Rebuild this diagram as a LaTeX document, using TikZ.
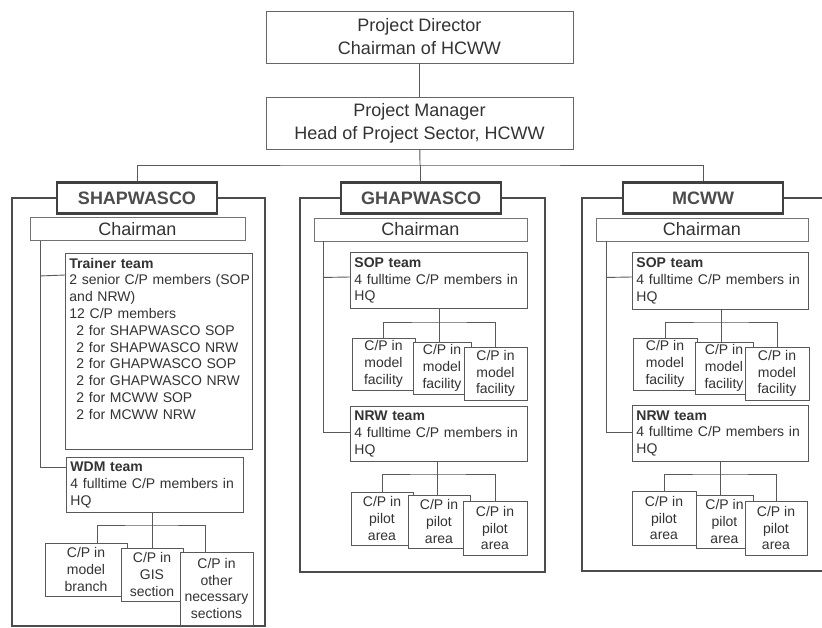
\documentclass[tikz,border=0pt]{standalone}
\usepackage{fontspec}
\setmainfont{Liberation Sans}
\usetikzlibrary{calc}
\begin{document}
\begin{tikzpicture}[x=1pt,y=-1pt,
    wire/.style={draw=black!65,line width=.9pt},
    panel/.style={draw=black!70,line width=1.2pt},
    lead/.style={draw=black!60,line width=.9pt,fill=white,text=black!80,align=center,inner sep=0pt,font=\fontsize{18}{23}\selectfont},
    org/.style={draw=black!75,line width=2.6pt,fill=white,text=black!70,inner sep=0pt,minimum width=160pt,minimum height=31pt,font=\fontsize{18}{22}\bfseries\selectfont},
    chair/.style={draw=black!55,line width=.9pt,fill=white,text=black!80,inner sep=0pt,minimum height=23pt,font=\fontsize{18}{22}\selectfont},
    team/.style={draw=black!65,line width=.9pt,fill=white,text=black!80,anchor=north west,align=left,inner xsep=4pt,inner ysep=3pt,font=\fontsize{14}{16.8}\selectfont},
    cp/.style={draw=black!65,line width=.9pt,fill=white,text=black!80,align=center,inner sep=1pt,font=\fontsize{14}{16.8}\selectfont}]
  \useasboundingbox (0,0) rectangle (822,628);
  % top of the project
  \node[lead,minimum width=307pt,minimum height=52pt] (pd) at (419.5,37) {Project Director\\Chairman of HCWW};
  \node[lead,minimum width=307pt,minimum height=52pt] (pm) at (419.5,123) {Project Manager\\Head of Project Sector, HCWW};
  \draw[wire] (pd) -- (pm);
  % the three companies
  \draw[panel] (12,198) rectangle (265,626);
  \draw[panel] (300,198) rectangle (545,572);
  \draw[panel] (582,198) rectangle (830,571);
  \node[org] (sh) at (137,198) {SHAPWASCO};
  \node[org] (gh) at (421,198) {GHAPWASCO};
  \node[org] (mc) at (703,198) {MCWW};
  \coordinate (bus) at (420,165);
  \draw[wire] (pm) -- (bus);
  \draw[wire] (sh) |- (bus) -| (mc);
  \draw[wire] (bus) -- (bus |- gh.north);
  \node[chair,minimum width=215pt] (shch) at (137.5,229) {Chairman};
  \node[chair,minimum width=213pt] (ghch) at (420.5,229.5) {Chairman};
  \node[chair,minimum width=212pt] (mcch) at (702,229.5) {Chairman};

  % SHAPWASCO
  \node[team,text width=179pt,minimum height=196pt] (shtr) at (65,253) {\textbf{Trainer team}\\\mbox{2 senior C/P members (SOP}\\and NRW)\\12 C/P members\\
    \hspace*{7pt}2 for SHAPWASCO SOP\\\hspace*{7pt}2 for SHAPWASCO NRW\\\hspace*{7pt}2 for GHAPWASCO SOP\\
    \hspace*{7pt}2 for GHAPWASCO NRW\\\hspace*{7pt}2 for MCWW SOP\\\hspace*{7pt}2 for MCWW NRW\\[9pt]\mbox{}};
  \node[team,text width=169pt,minimum height=55pt] (shwdm) at (66,457) {\textbf{WDM team}\\4 fulltime C/P members in\\HQ};
  \draw[wire] ($(shch.south west)+(11,0)$) |- ($(shwdm.north west)+(0,10)$);
  \draw[wire] ($(shch.south west)+(11,35)$) -- ($(shtr.north west)+(0,22)$);
  \node[cp,minimum width=82pt,minimum height=53pt] (shc1) at (86,569.5) {C/P in\\model\\branch};
  \node[cp,minimum width=62pt,minimum height=53pt] (shc2) at (152,574.5) {C/P in\\GIS\\section};
  \node[cp,minimum width=73pt,minimum height=73pt] (shc3) at (216.5,588.5) {C/P in\\other\\necessary\\sections};
  \coordinate (shb) at (152,525);
  \draw[wire] (shwdm.south -| shb) -- (shb);
  \draw[wire] ([xshift=11pt]shc1.north) |- (shb) -| ([xshift=-11pt]shc3.north);
  \draw[wire] (shb) -- (shc2);

  % GHAPWASCO
  \node[team,text width=169pt,minimum height=56pt] (ghsop) at (350,252) {\textbf{SOP team}\\4 fulltime C/P members in\\HQ};
  \node[team,text width=169pt,minimum height=55pt] (ghnrw) at (350,406) {\textbf{NRW team}\\4 fulltime C/P members in\\HQ};
  \draw[wire] ($(ghch.south west)+(10,0)$) |- ($(ghnrw.north west)+(0,26)$);
  \draw[wire] ($(ghch.south west)+(10,36)$) -- ($(ghsop.north west)+(0,25)$);
  \node[cp,minimum width=63pt,minimum height=52pt] (ghf1) at (383.5,364) {C/P in\\model\\facility};
  \node[cp,minimum width=58pt,minimum height=52pt] (ghf2) at (442,368) {C/P in\\model\\facility};
  \node[cp,minimum width=63pt,minimum height=53pt] (ghf3) at (495.5,373.5) {C/P in\\model\\facility};
  \coordinate (ghb1) at (439,322);
  \draw[wire] (ghsop.south -| ghb1) -- (ghb1);
  \draw[wire] (ghf1) |- (ghb1) -| (ghf3);
  \draw[wire] (ghb1) -- (ghb1 |- ghf2.north);
  \node[cp,minimum width=62pt,minimum height=53pt] (ghp1) at (382,518.5) {C/P in\\pilot\\area};
  \node[cp,minimum width=62pt,minimum height=53pt] (ghp2) at (439,521.5) {C/P in\\pilot\\area};
  \node[cp,minimum width=64pt,minimum height=54pt] (ghp3) at (495,528) {C/P in\\pilot\\area};
  \coordinate (ghb2) at (437,474);
  \draw[wire] (ghnrw.south -| ghb2) -- (ghb2);
  \draw[wire] (ghp1) |- (ghb2) -| (ghp3);
  \draw[wire] (ghb2) -- (ghb2 |- ghp2.north);

  % MCWW
  \node[team,text width=168pt,minimum height=57pt] (mcsop) at (632,252) {\textbf{SOP team}\\4 fulltime C/P members in\\HQ};
  \node[team,text width=168pt,minimum height=56pt] (mcnrw) at (632,405) {\textbf{NRW team}\\4 fulltime C/P members in\\HQ};
  \draw[wire] ($(mcch.south west)+(11,0)$) |- ($(mcnrw.north west)+(0,27)$);
  \draw[wire] ($(mcch.south west)+(11,36)$) -- ($(mcsop.north west)+(0,25)$);
  \node[cp,minimum width=64pt,minimum height=52pt] (mcf1) at (665,364) {C/P in\\model\\facility};
  \node[cp,minimum width=58pt,minimum height=52pt] (mcf2) at (724,368) {C/P in\\model\\facility};
  \node[cp,minimum width=64pt,minimum height=53pt] (mcf3) at (777,373.5) {C/P in\\model\\facility};
  \coordinate (mcb1) at (721,322);
  \draw[wire] (mcsop.south -| mcb1) -- (mcb1);
  \draw[wire] (mcf1) |- (mcb1) -| (mcf3);
  \draw[wire] (mcb1) -- (mcb1 |- mcf2.north);
  \node[cp,minimum width=64pt,minimum height=54pt] (mcp1) at (664,518) {C/P in\\pilot\\area};
  \node[cp,minimum width=57pt,minimum height=53pt] (mcp2) at (724.5,521.5) {C/P in\\pilot\\area};
  \node[cp,minimum width=62pt,minimum height=54pt] (mcp3) at (776,528) {C/P in\\pilot\\area};
  \coordinate (mcb2) at (720,474);
  \draw[wire] (mcnrw.south -| mcb2) -- (mcb2);
  \draw[wire] (mcp1) |- (mcb2) -| (mcp3);
  \draw[wire] (mcb2) -- (mcb2 |- mcp2.north);
\end{tikzpicture}
\end{document}
